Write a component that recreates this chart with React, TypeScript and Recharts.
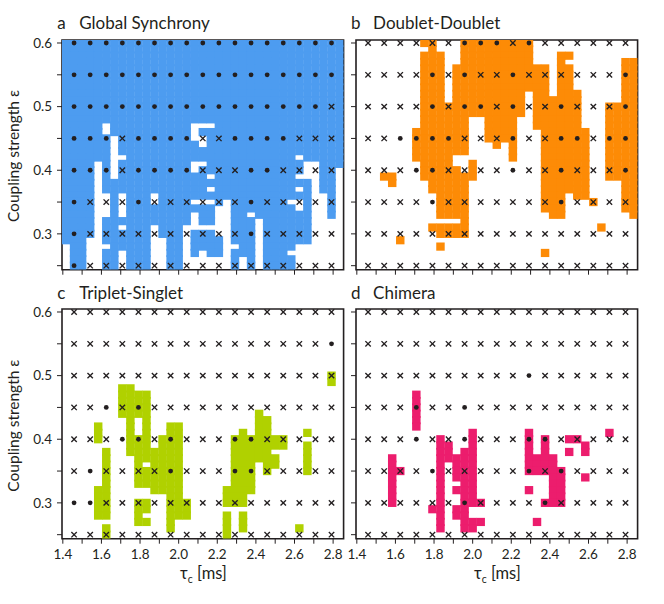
import React from 'react';
import { ScatterChart, Scatter, XAxis, YAxis, ReferenceArea } from 'recharts';

// ---------- grids ----------
const TAU_FINE = [1.4167, 1.4583, 1.5, 1.5417, 1.5833, 1.625, 1.6667, 1.7083, 1.75, 1.7917, 1.8333, 1.875, 1.9167, 1.9583, 2.0, 2.0417, 2.0833, 2.125, 2.1667, 2.2083, 2.25, 2.2917, 2.3333, 2.375, 2.4167, 2.4583, 2.5, 2.5417, 2.5833, 2.625, 2.6667, 2.7083, 2.75, 2.7917, 2.8333];
const EPS_FINE = [0.6, 0.59, 0.58, 0.57, 0.56, 0.55, 0.54, 0.53, 0.52, 0.51, 0.5, 0.49, 0.48, 0.47, 0.46, 0.45, 0.44, 0.43, 0.42, 0.41, 0.4, 0.39, 0.38, 0.37, 0.36, 0.35, 0.34, 0.33, 0.32, 0.31, 0.3, 0.29, 0.28, 0.27, 0.26, 0.25];
const TAU_MARK = [1.4583, 1.5417, 1.625, 1.7083, 1.7917, 1.875, 1.9583, 2.0417, 2.125, 2.2083, 2.2917, 2.375, 2.4583, 2.5417, 2.625, 2.7083, 2.7917];
const EPS_MARK = [0.6, 0.55, 0.5, 0.45, 0.4, 0.35, 0.3, 0.25];
const TAU_TICKS = [1.4, 1.5, 1.6, 1.7, 1.8, 1.9, 2.0, 2.1, 2.2, 2.3, 2.4, 2.5, 2.6, 2.7, 2.8];
const TAU_LABELS = [1.4, 1.6, 1.8, 2.0, 2.2, 2.4, 2.6, 2.8];
const EPS_TICKS = [0.25, 0.3, 0.35, 0.4, 0.45, 0.5, 0.55, 0.6];
const EPS_LABELS = [0.3, 0.4, 0.5, 0.6];

// ---------- a: Global synchrony (column indices NOT in sync, per eps row 0.60 -> 0.25) ----------
const SYNC_GAPS: number[][] = [
  [], [], [], [], [], [], [], [], [], [], [], [], [],
  [5, 16, 17, 18],
  [5, 16],
  [6, 16, 17],
  [6, 17],
  [6],
  [6, 7, 29],
  [4, 6, 16, 17, 30, 31],
  [4, 6, 16, 30, 31, 34],
  [4, 6, 18, 29, 30, 31, 34],
  [4, 31, 34],
  [4, 18, 29, 31, 34],
  [4, 5, 7, 11, 31, 32, 34],
  [4, 5, 7, 11, 16, 17, 18, 20, 28, 29, 31, 32, 34],
  [4, 5, 7, 19, 20, 29, 31, 32, 34],
  [4, 5, 7, 16, 19, 20, 23, 31, 32, 34],
  [4, 16, 19, 20, 24, 31, 32, 33, 34],
  [4, 7, 11, 15, 16, 17, 18, 19, 20, 24, 31, 32, 33, 34],
  [4, 11, 15, 19, 20, 24, 31, 32, 33, 34],
  [3, 4, 11, 12, 15, 20, 24, 31, 32, 33, 34],
  [0, 3, 4, 5, 11, 12, 15, 20, 21, 24, 29, 30, 31, 32, 33, 34],
  [0, 3, 4, 7, 11, 12, 15, 17, 20, 24, 28, 29, 30, 31, 32, 33, 34],
  [0, 3, 4, 7, 11, 12, 15, 16, 17, 18, 19, 20, 22, 24, 29, 30, 31, 32, 33, 34],
  [0, 3, 4, 7, 11, 12, 15, 16, 17, 18, 19, 20, 22, 24, 29, 30, 31, 32, 33, 34],
];

// ---------- b: Doublet-Doublet (filled column indices per eps row 0.60 -> 0.25) ----------
const DOUBLET_FILL: number[][] = [
  [8, 9, 13, 14, 15, 16, 17, 18, 19, 20, 21],
  [9, 13, 14, 15, 16, 17, 18, 19, 20, 21],
  [8, 9, 10, 13, 14, 15, 16, 17, 18, 19, 20, 21, 25, 26],
  [8, 9, 10, 13, 14, 15, 16, 17, 18, 19, 20, 21, 25, 33, 34],
  [8, 9, 10, 12, 13, 14, 15, 16, 17, 18, 19, 20, 21, 22, 23, 25, 26, 33, 34],
  [8, 9, 10, 12, 13, 14, 15, 16, 17, 18, 19, 20, 21, 22, 23, 25, 26, 33, 34],
  [8, 9, 10, 12, 13, 14, 15, 16, 17, 18, 19, 20, 21, 22, 23, 25, 26, 33, 34],
  [8, 9, 10, 12, 13, 14, 15, 16, 17, 18, 19, 20, 21, 22, 23, 25, 26, 33, 34],
  [8, 9, 10, 12, 13, 14, 15, 16, 17, 18, 19, 20, 22, 23, 25, 26, 27, 33, 34],
  [8, 9, 10, 12, 13, 14, 15, 16, 17, 18, 19, 20, 22, 23, 24, 25, 26, 27, 33, 34],
  [8, 9, 10, 11, 12, 13, 14, 15, 16, 17, 18, 19, 20, 22, 23, 24, 25, 26, 27, 31, 32, 33, 34],
  [8, 9, 10, 11, 12, 13, 14, 15, 16, 17, 18, 19, 20, 22, 23, 24, 25, 26, 27, 31, 32, 33, 34],
  [8, 9, 10, 11, 12, 13, 16, 17, 18, 19, 22, 23, 24, 25, 26, 27, 31, 32, 33, 34],
  [8, 9, 10, 11, 12, 13, 16, 17, 18, 19, 22, 23, 24, 25, 26, 27, 31, 32, 33, 34],
  [7, 8, 9, 10, 11, 12, 13, 16, 17, 18, 19, 23, 24, 25, 26, 27, 28, 31, 32, 33, 34],
  [7, 8, 9, 10, 11, 12, 13, 16, 17, 18, 19, 23, 24, 25, 26, 27, 28, 31, 32, 33, 34],
  [7, 8, 9, 10, 11, 12, 13, 17, 19, 23, 24, 25, 26, 27, 28, 31, 32, 33, 34],
  [7, 8, 9, 10, 11, 12, 13, 19, 23, 24, 25, 26, 27, 28, 31, 32, 33, 34],
  [7, 8, 9, 10, 11, 19, 23, 24, 25, 26, 27, 28, 31, 32, 33, 34],
  [8, 9, 10, 11, 14, 23, 24, 25, 26, 27, 28, 31, 32, 33, 34],
  [8, 9, 10, 11, 12, 14, 23, 24, 25, 26, 27, 28, 31, 32, 33, 34],
  [3, 4, 8, 9, 10, 11, 12, 13, 14, 23, 24, 25, 26, 27, 28, 31, 32, 33, 34],
  [4, 9, 10, 11, 12, 13, 23, 24, 25, 26, 27, 28, 33, 34],
  [9, 10, 11, 12, 13, 23, 24, 25, 26, 27, 28, 33, 34],
  [10, 11, 12, 13, 23, 24, 25, 27, 28, 33, 34],
  [10, 11, 12, 13, 23, 24, 25, 29, 33, 34],
  [10, 11, 12, 13, 23, 24, 25, 33, 34],
  [10, 11, 12, 13, 24, 25, 34],
  [13],
  [9, 10, 11, 12, 13, 30],
  [10, 11, 12, 13],
  [5],
  [10],
  [23],
  [],
  [],
];

// ---------- c: Triplet-Singlet ----------
const TRIPLET_FILL: number[][] = [
  [], [], [], [], [], [], [], [], [], [],
  [33],
  [33],
  [7, 8],
  [7, 8, 9, 10],
  [7, 8, 9, 10],
  [7, 8, 9, 10],
  [7, 8, 9, 10, 24],
  [8, 10, 24, 25],
  [4, 8, 10, 13, 14, 24, 25],
  [4, 8, 10, 13, 14, 22, 24, 25, 30],
  [4, 8, 9, 10, 12, 13, 14, 21, 22, 23, 24, 25, 26, 27],
  [8, 9, 10, 12, 13, 14, 21, 22, 23, 24, 25, 26, 27, 30],
  [5, 8, 9, 10, 11, 12, 13, 14, 21, 22, 23, 24, 25, 30],
  [5, 9, 10, 11, 12, 13, 14, 21, 22, 23, 24, 25, 26, 30],
  [5, 9, 11, 12, 13, 14, 21, 22, 23, 25, 26, 30],
  [5, 9, 10, 11, 12, 13, 14, 21, 22, 23, 25, 30],
  [5, 9, 10, 11, 12, 13, 14, 21, 22, 23],
  [5, 9, 10, 11, 12, 13, 14, 21, 22, 23],
  [4, 5, 11, 12, 13, 14, 20, 21, 22, 23],
  [4, 5, 13, 14, 20, 21, 22],
  [4, 5, 9, 10, 13, 14, 15, 20, 21, 22],
  [4, 5, 9, 10, 13, 14, 15],
  [4, 5, 9, 13, 14, 15, 20, 22],
  [9, 10, 13, 20, 22],
  [5, 13, 20, 22, 29],
  [5, 20],
];

// ---------- d: Chimera ----------
const CHIMERA_FILL: number[][] = [
  [], [], [], [], [], [], [], [], [], [], [], [], [],
  [7], [7], [7], [7], [7], [7],
  [14, 21, 31],
  [10, 14, 21, 23, 26, 27],
  [10, 11, 14, 21, 23, 28],
  [10, 11, 13, 14, 21, 23, 26, 28],
  [4, 10, 11, 12, 13, 14, 21, 22, 23, 24],
  [4, 10, 12, 13, 14, 21, 22, 23, 24],
  [4, 5, 10, 12, 13, 14, 21, 22, 23, 24, 25],
  [4, 10, 12, 13, 14, 24, 25, 28],
  [4, 10, 13, 14, 24, 25],
  [4, 10, 12, 13, 14, 21, 24, 25],
  [4, 10, 13, 14, 24, 25],
  [4, 10, 13, 14, 15, 23, 24, 25],
  [9, 10, 12, 13],
  [10, 12, 13],
  [10, 13, 14, 15, 22],
  [10, 13, 14],
  [],
];

// ---------- simulation outcome markers (o = dot, x = cross), eps 0.60 -> 0.25 ----------
const SYNC_MARKS = [
  'ooooooooooooooooo',
  'ooooooooooooooooo',
  'oooooooooooooooox',
  'oooxooooxxooooxxx',
  'oooxooooxxxooxxxx',
  'oxxxoxxxxxxoxxxxx',
  'oxxxxxxxxxxoxxxxx',
  'oxxxxxxxxxxxxxxxx',
];
const DOUBLET_MARKS = [
  'xxxxxxoooxoxxxxxx',
  'xxxxoxoxxoxxxxxxo',
  'xxxxoxooxoxxoxxxo',
  'xxooooxxxoxxooxoo',
  'xxxooxxxxoxxoxxxo',
  'xxxxoxxxxxxxoxxxx',
  'xxxxxxxxxxxxxxxxx',
  'xxxxxxxxxxxxxxxxx',
];
const TRIPLET_MARKS = [
  'xxxxxxxxxxxxxxxxx',
  'xxxxxxxxxxxxxxxxo',
  'xxxxxxxxxxxxxxxxx',
  'xxoxoxxxxxxxxxxxx',
  'xxxooxoxxxooxxxxx',
  'xoxxxxoxxxooxxxxx',
  'ooxxxxxxxxxxxxxxx',
  'xxxxxxxxxxxxxxxxx',
];
const CHIMERA_MARKS = [
  'xxxxxxxxxxxxxxxxx',
  'xxxxxxxxxxxxxxxxx',
  'xxxxxxxxxxoxxxxxx',
  'xxxoxxoxxxxxxxxxx',
  'xxxoxxoxxxooxxxxx',
  'xxxxoxxxxxoxoxxxx',
  'xxxxxxoxxxxoxxxxx',
  'xxxxxxxxxxxxxxxxx',
];

// ---------- styling / layout ----------
const INK = '#231f20';
const FONT = 'Lato, "Open Sans", sans-serif';
const X_DOMAIN: [number, number] = [1.3958, 2.8542];
const Y_DOMAIN: [number, number] = [0.2437, 0.6047];
const PLOT_W = 281.6;
const PLOT_H = 229.7;
const ML = 48; // y-axis width
const MT = 8;
const MR = 8;
const MB = 32; // x-axis height
const CELL_W = PLOT_W / (X_DOMAIN[1] - X_DOMAIN[0]) / 24 + 0.4;
const CELL_H = 8.2;

type Pt = { x: number; y: number };

const cellsFromFilled = (rows: number[][]): Pt[] =>
  rows.flatMap((cols, r) => cols.map((c) => ({ x: TAU_FINE[c], y: EPS_FINE[r] })));
const cellsFromGaps = (rows: number[][]): Pt[] =>
  rows.flatMap((gaps, r) =>
    TAU_FINE.filter((_, c) => !gaps.includes(c)).map((x) => ({ x, y: EPS_FINE[r] }))
  );
const marksOf = (rows: string[], ch: string): Pt[] =>
  rows.flatMap((row, r) =>
    row.split('').flatMap((m, i) => (m === ch ? [{ x: TAU_MARK[i], y: EPS_MARK[r] }] : []))
  );

const makeCell = (color: string) => (p: any) => {
  if (p == null || p.cx == null) return <g />;
  const x0 = Math.max(p.cx - CELL_W / 2, ML);
  const x1 = Math.min(p.cx + CELL_W / 2, ML + PLOT_W);
  const y0 = Math.max(p.cy - CELL_H / 2, MT);
  const y1 = Math.min(p.cy + CELL_H / 2, MT + PLOT_H);
  return <rect x={x0} y={y0} width={Math.max(0, x1 - x0)} height={Math.max(0, y1 - y0)} fill={color} />;
};
const dotShape = (p: any) => (p && p.cx != null ? <circle cx={p.cx} cy={p.cy} r={2.4} fill={INK} /> : <g />);
const crossShape = (p: any) => {
  if (!p || p.cx == null) return <g />;
  const s = 2.7;
  return (
    <g stroke={INK} strokeWidth={1.35}>
      <line x1={p.cx - s} y1={p.cy - s} x2={p.cx + s} y2={p.cy + s} />
      <line x1={p.cx - s} y1={p.cy + s} x2={p.cx + s} y2={p.cy - s} />
    </g>
  );
};

const near = (list: number[], v: number) => list.some((t) => Math.abs(t - v) < 1e-6);

const xTick = (show: boolean) => (p: any) => {
  const v = p.payload.value;
  if (!show || !near(TAU_LABELS, v)) return <g />;
  return (
    <text x={p.x} y={p.y} dy="0.71em" textAnchor="middle" fontSize={13.5} fill={INK} fontFamily={FONT}>
      {v.toFixed(1)}
    </text>
  );
};
const yTick = (show: boolean) => (p: any) => {
  const v = p.payload.value;
  if (!show || !near(EPS_LABELS, v)) return <g />;
  return (
    <text x={p.x} y={p.y} dy="0.355em" textAnchor="end" fontSize={13.5} fill={INK} fontFamily={FONT}>
      {v.toFixed(1)}
    </text>
  );
};

type PanelProps = {
  left: number;
  top: number;
  color: string;
  cells: Pt[];
  marks: string[];
  xLabels: boolean;
  yLabels: boolean;
};

function Panel({ left, top, color, cells, marks, xLabels, yLabels }: PanelProps) {
  const W = ML + PLOT_W + MR;
  const H = MT + PLOT_H + MB;
  return (
    <div style={{ position: 'absolute', left: left - ML, top: top - MT }}>
      <ScatterChart width={W} height={H} margin={{ top: MT, right: MR, bottom: 0, left: 0 }}>
        <XAxis
          type="number"
          dataKey="x"
          domain={X_DOMAIN}
          ticks={TAU_TICKS}
          interval={0}
          allowDataOverflow
          axisLine={false}
          tickSize={5}
          tickMargin={6}
          tickLine={{ stroke: INK, strokeWidth: 1 }}
          tick={xTick(xLabels)}
          height={MB}
        />
        <YAxis
          type="number"
          dataKey="y"
          domain={Y_DOMAIN}
          ticks={EPS_TICKS}
          interval={0}
          allowDataOverflow
          axisLine={false}
          tickSize={5}
          tickMargin={5}
          tickLine={{ stroke: INK, strokeWidth: 1 }}
          tick={yTick(yLabels)}
          width={ML}
        />
        <Scatter data={cells} shape={makeCell(color)} isAnimationActive={false} />
        <Scatter data={marksOf(marks, 'x')} shape={crossShape} isAnimationActive={false} />
        <Scatter data={marksOf(marks, 'o')} shape={dotShape} isAnimationActive={false} />
        <ReferenceArea
          x1={X_DOMAIN[0]}
          x2={X_DOMAIN[1]}
          y1={Y_DOMAIN[0]}
          y2={Y_DOMAIN[1]}
          fill="none"
          fillOpacity={0}
          stroke={INK}
          strokeWidth={1.6}
          ifOverflow="visible"
        />
      </ScatterChart>
    </div>
  );
}

const PANELS = [
  { key: 'a', title: 'Global Synchrony', left: 61.7, top: 39.7, color: '#4d9cf0', cells: cellsFromGaps(SYNC_GAPS), marks: SYNC_MARKS, xLabels: false, yLabels: true },
  { key: 'b', title: 'Doublet-Doublet', left: 355.6, top: 39.7, color: '#fd8b06', cells: cellsFromFilled(DOUBLET_FILL), marks: DOUBLET_MARKS, xLabels: false, yLabels: false },
  { key: 'c', title: 'Triplet-Singlet', left: 61.7, top: 309.3, color: '#b0d100', cells: cellsFromFilled(TRIPLET_FILL), marks: TRIPLET_MARKS, xLabels: true, yLabels: true },
  { key: 'd', title: 'Chimera', left: 355.6, top: 309.3, color: '#ec1d6d', cells: cellsFromFilled(CHIMERA_FILL), marks: CHIMERA_MARKS, xLabels: true, yLabels: false },
];

export default function App() {
  return (
    <div style={{ position: 'fixed', left: 0, top: 0, width: 664, height: 604, background: '#fff', overflow: 'hidden' }}>
      {PANELS.map((p) => (
        <Panel key={p.key} left={p.left} top={p.top} color={p.color} cells={p.cells} marks={p.marks} xLabels={p.xLabels} yLabels={p.yLabels} />
      ))}
      <svg width={664} height={604} style={{ position: 'absolute', left: 0, top: 0, pointerEvents: 'none' }} fontFamily={FONT} fill={INK}>
        {PANELS.map((p) => (
          <g key={p.key}>
            <text x={p.left - 4.5} y={p.top - 10.5} fontSize={17}>{p.key}</text>
            <text x={p.left + 17.5} y={p.top - 10.5} fontSize={17}>{p.title}</text>
          </g>
        ))}
        {[39.7, 309.3].map((t) => (
          <text key={t} transform={`translate(19,${t + PLOT_H / 2 + 1.5}) rotate(-90)`} textAnchor="middle" fontSize={15.5}>
            Coupling strength ε
          </text>
        ))}
        {[61.7, 355.6].map((l) => (
          <text key={l} x={l + PLOT_W / 2 + 1} y={579} textAnchor="middle" fontSize={16.5}>
            <tspan>τ</tspan>
            <tspan fontSize={10.5} dy={4}>c</tspan>
            <tspan dy={-4}> [ms]</tspan>
          </text>
        ))}
      </svg>
    </div>
  );
}
